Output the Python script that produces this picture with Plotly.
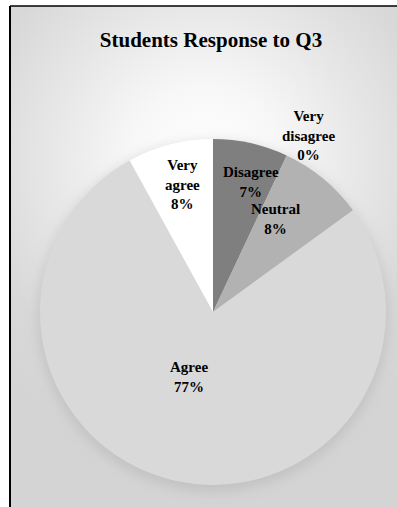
import base64
import math
import plotly.graph_objects as go

# Survey responses for question 3 (percent of students)
categories = ["Very disagree", "Disagree", "Neutral", "Agree", "Very agree"]
percents = [0, 7, 8, 77, 8]
slice_colors = ["#3f3f3f", "#7f7f7f", "#b2b2b2", "#d9d9d9", "#ffffff"]

W, H = 397, 507
SERIF = "Liberation Serif"
# pie geometry in pixels
PIE_CX, PIE_CY, PIE_R = 213, 312, 173
# label placement: (angle shift in degrees, radius factor)
label_adjust = [(31.0, 1.39), (3.7, 0.78), (4.1, 0.745), (3.2, 0.51), (0.7, 0.756)]

# chart-area background: soft radial gradient with a shadow beneath the pie
svg = f"""<svg xmlns='http://www.w3.org/2000/svg' width='{W}' height='{H}' viewBox='0 0 {W} {H}'>
<defs>
<radialGradient id='g' gradientUnits='userSpaceOnUse' cx='205' cy='160' r='300'>
<stop offset='0' stop-color='#ffffff'/>
<stop offset='0.25' stop-color='#f7f7f7'/>
<stop offset='0.5' stop-color='#e8e8e8'/>
<stop offset='0.78' stop-color='#d8d8d8'/>
<stop offset='1' stop-color='#d4d4d4'/>
</radialGradient>
<filter id='b' x='-30%' y='-30%' width='160%' height='160%'><feGaussianBlur stdDeviation='6'/></filter>
</defs>
<rect x='0' y='0' width='{W}' height='{H}' fill='#ffffff'/>
<rect x='10' y='6' width='{W}' height='{H}' fill='url(#g)'/>
<circle cx='{PIE_CX}' cy='{PIE_CY + 4}' r='{PIE_R + 3}' fill='#9a9a9a' fill-opacity='0.3' filter='url(#b)'/>
</svg>"""
bg_src = "data:image/svg+xml;base64," + base64.b64encode(svg.encode()).decode()

dom_x = [(PIE_CX - PIE_R) / W, (PIE_CX + PIE_R) / W]
dom_y = [(H - PIE_CY - PIE_R) / H, (H - PIE_CY + PIE_R) / H]

fig = go.Figure(
    go.Pie(
        labels=categories,
        values=percents,
        sort=False,
        direction="clockwise",
        rotation=0,
        marker=dict(colors=slice_colors, line=dict(width=0)),
        textinfo="none",
        hoverinfo="label+percent",
        domain=dict(x=dom_x, y=dom_y),
    )
)

# slice labels placed along each slice's mid angle
total = sum(percents)
cum = 0
for name, val, (dth, fr) in zip(categories, percents, label_adjust):
    mid = (cum + val / 2) / total * 360 + dth
    cum += val
    px = PIE_CX + PIE_R * fr * math.sin(math.radians(mid))
    py = PIE_CY - PIE_R * fr * math.cos(math.radians(mid))
    words = name.split(" ")
    text = "<b>" + "<br>".join(words + [f"{round(val / total * 100)}%"]) + "</b>"
    fig.add_annotation(
        x=px / W, y=1 - py / H, xref="paper", yref="paper",
        text=text, showarrow=False, align="center",
        font=dict(family=SERIF, size=15, color="#000000"),
    )

# chart-area frame (left and top edges)
fig.add_shape(type="line", xref="paper", yref="paper",
              x0=10 / W, x1=10 / W, y0=0, y1=1 - 6 / H,
              line=dict(color="#000000", width=2))
fig.add_shape(type="line", xref="paper", yref="paper",
              x0=10 / W, x1=1, y0=1 - 6 / H, y1=1 - 6 / H,
              line=dict(color="#000000", width=1.5))

fig.update_layout(
    width=W, height=H,
    margin=dict(l=0, r=0, t=0, b=0),
    paper_bgcolor="#ffffff",
    showlegend=False,
    title=dict(
        text="<b>Students Response to Q3</b>",
        x=211 / W, xanchor="center", y=1 - 40 / H, yanchor="middle",
        font=dict(family=SERIF, size=21, color="#000000"),
    ),
    images=[dict(source=bg_src, xref="paper", yref="paper", x=0, y=1,
                 sizex=1, sizey=1, xanchor="left", yanchor="top",
                 sizing="stretch", layer="below")],
)

fig.write_html("out.html")
